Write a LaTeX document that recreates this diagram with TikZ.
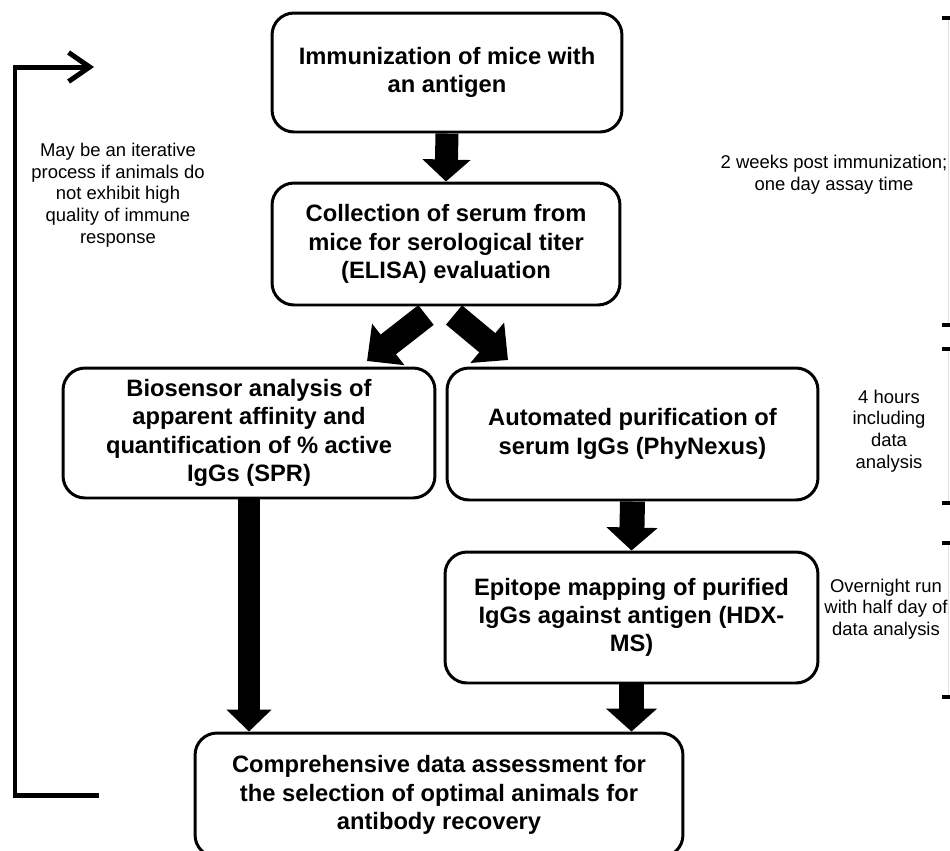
\documentclass[tikz,border=0pt]{standalone}
\usepackage{fontspec}
\setmainfont{Liberation Sans}
\usepackage{xcolor}
\usetikzlibrary{arrows.meta, positioning}
\tikzstyle{stage} = [rectangle, draw=black, line width=1.7pt, rounded corners=0.44cm, align=center, inner sep=0pt, font=\fontsize{13.5}{16.1}\selectfont\bfseries]
\tikzstyle{note} = [align=center, font=\fontsize{10.5}{12.3}\selectfont]
\tikzstyle{fatarrow} = [line width=0.46cm, -{Triangle[length=0.44cm, width=0.94cm]}]
\tikzstyle{splitarrow} = [line width=0.5cm, -{Triangle[length=0.54cm, width=1.02cm]}]
\tikzstyle{feedback} = [line width=0.1cm, -{Straight Barb[length=0.42cm, width=0.58cm]}]
\tikzstyle{timetick} = [line width=0.08cm]

\begin{document}
\begin{tikzpicture}[x=0.02cm, y=-0.02cm]
    \useasboundingbox (0,0) rectangle (950,850);
    \clip (0,0) rectangle (950,850);

    % Stages
    \node[stage, minimum width=7cm, minimum height=2.38cm] (imm) at (447,72.5) {Immunization of mice with\\an antigen};
    \node[stage, minimum width=6.96cm, minimum height=2.44cm] (coll) at (446,244) {Collection of serum from\\mice for serological titer\\(ELISA) evaluation};
    \node[stage, minimum width=7.44cm, minimum height=2.6cm] (bio) at (249,433) {Biosensor analysis of\\apparent affinity and\\quantification of \% active\\IgGs (SPR)};
    \node[stage, minimum width=7.42cm, minimum height=2.64cm] (purif) at (632.5,434) {Automated purification of\\serum IgGs (PhyNexus)};
    \node[stage, minimum width=7.46cm, minimum height=2.62cm] (epi) at (631.5,617.5) {Epitope mapping of purified\\IgGs against antigen (HDX-\\MS)};
    \node[stage, minimum width=9.76cm, minimum height=2.48cm] (assess) at (439,795) {Comprehensive data assessment for\\the selection of optimal animals for\\antibody recovery};

    % Arrows between stages
    \draw[fatarrow] (imm.south) -- (coll.north);
    \coordinate (splitL) at (426,315);
    \coordinate (splitR) at (454,315);
    \coordinate (bioIn) at (367,361);
    \coordinate (purifIn) at (508,360);
    \draw[splitarrow] (splitL) -- (bioIn);
    \draw[splitarrow] (splitR) -- (purifIn);
    \draw[fatarrow, line width=0.44cm, -{Triangle[length=0.44cm, width=0.88cm]}] (bio.south) -- (bio.south |- assess.north);
    \draw[fatarrow, line width=0.5cm, -{Triangle[length=0.46cm, width=1cm]}] (purif.south) -- (epi.north);
    \draw[fatarrow, line width=0.5cm, -{Triangle[length=0.46cm, width=1cm]}] (epi.south) -- (epi.south |- assess.north);

    % Iteration loop
    \coordinate (fbFrom) at (99,795);
    \coordinate (fbTo) at (94,67);
    \draw[feedback] (fbFrom) -- (15,795) -- (15,67) -- (fbTo);
    \node[note] (iternote) at (118,195) {May be an iterative\\process if animals do\\not exhibit high\\quality of immune\\response};

    % Timing notes
    \node[note] (weeksnote) at (834,175) {2 weeks post immunization;\\one day assay time};
    \node[note] (hoursnote) at (889,431) {4 hours\\including\\data\\analysis};
    \node[note] (overnote) at (886,609) {Overnight run\\with half day of\\data analysis};

    % Time brackets
    \foreach \ya/\yb in {18/325, 349/503, 543/697} {
        \draw[gray!25, line width=0.4pt] (948,\ya) -- (948,\yb);
        \draw[timetick] (942,\ya) -- (950,\ya);
        \draw[timetick] (942,\yb) -- (950,\yb);
    }
\end{tikzpicture}
\end{document}
